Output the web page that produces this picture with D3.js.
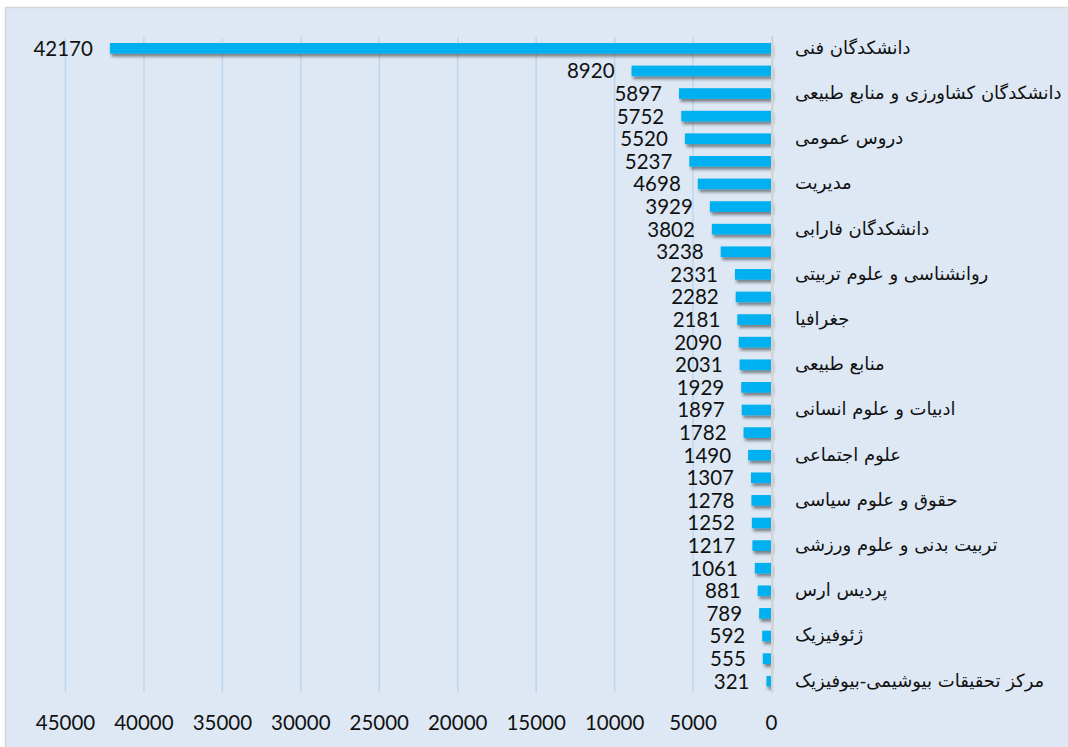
<!DOCTYPE html>
<html>
<head>
<meta charset="utf-8">
<script src="https://cdn.jsdelivr.net/npm/d3@7"></script>
<style>
  html, body { margin: 0; padding: 0; background: #ffffff; }
  svg { display: block; }
</style>
</head>
<body>
<svg id="chart" width="1068" height="747"></svg>
<script>
// Category labels (only every other row carries a visible name)
const categories = [
  "دانشکدگان فنی", "",
  "دانشکدگان کشاورزی و منابع طبیعی", "",
  "دروس عمومی", "",
  "مدیریت", "",
  "دانشکدگان فارابی", "",
  "روانشناسی و علوم تربیتی", "",
  "جغرافیا", "",
  "منابع طبیعی", "",
  "ادبیات و علوم انسانی", "",
  "علوم اجتماعی", "",
  "حقوق و علوم سیاسی", "",
  "تربیت بدنی و علوم ورزشی", "",
  "پردیس ارس", "",
  "ژئوفیزیک", "",
  "مرکز تحقیقات بیوشیمی-بیوفیزیک"
];
const values = [
  42170, 8920, 5897, 5752, 5520, 5237, 4698, 3929, 3802, 3238,
  2331, 2282, 2181, 2090, 2031, 1929, 1897, 1782, 1490, 1307,
  1278, 1252, 1217, 1061, 881, 789, 592, 555, 321
];
const xTicks = [45000, 40000, 35000, 30000, 25000, 20000, 15000, 10000, 5000, 0];

const rows = values.map((v, i) => ({ key: i, label: categories[i], value: v }));

const svg = d3.select("#chart");
const W = 1068, H = 747;

// chart area background with its thin grey frame
svg.append("rect")
  .attr("x", 5.5).attr("y", 7.5)
  .attr("width", W + 10).attr("height", H + 10)
  .attr("fill", "#dde8f4")
  .attr("stroke", "#d6d6d6").attr("stroke-width", 1.5);

const plot = { left: 65.5, right: 771.5, top: 37, bottom: 692.5 };

const x = d3.scaleLinear().domain([45000, 0]).range([plot.left, plot.right]);
const y = d3.scaleBand().domain(rows.map(d => d.key))
  .range([plot.top, plot.bottom]).paddingInner(0.53).paddingOuter(0.265);

// drop shadow under the bars
const defs = svg.append("defs");
const f = defs.append("filter").attr("id", "barShadow")
  .attr("x", "-10%").attr("y", "-50%").attr("width", "130%").attr("height", "250%");
f.append("feDropShadow").attr("dx", 1.5).attr("dy", 3).attr("stdDeviation", 1.6)
  .attr("flood-color", "#000").attr("flood-opacity", 0.45);

// vertical gridlines
svg.append("g").selectAll("line").data(xTicks.filter(t => t !== 0)).join("line")
  .attr("x1", d => x(d)).attr("x2", d => x(d))
  .attr("y1", plot.top).attr("y2", plot.bottom)
  .attr("stroke", "#bfd5ee").attr("stroke-width", 1.5);

// bars
svg.append("g").selectAll("rect").data(rows).join("rect")
  .attr("x", d => x(d.value))
  .attr("y", d => y(d.key))
  .attr("width", d => x(0) - x(d.value))
  .attr("height", y.bandwidth())
  .attr("fill", "#00b0f0")
  .attr("filter", "url(#barShadow)");

// zero axis line
svg.append("line")
  .attr("x1", x(0) + 0.8).attr("x2", x(0) + 0.8)
  .attr("y1", plot.top - 1).attr("y2", plot.bottom)
  .attr("stroke", "#d3d3d3").attr("stroke-width", 2.5);

// value labels
svg.append("g").selectAll("text").data(rows).join("text")
  .attr("x", d => x(d.value) - 17)
  .attr("y", d => y(d.key) + y.bandwidth() / 2 + 7.5)
  .attr("text-anchor", "end")
  .attr("font-family", "Lato, 'Open Sans', sans-serif")
  .attr("font-size", 20.5)
  .attr("fill", "#111")
  .text(d => d.value);

// category labels
svg.append("g").selectAll("text").data(rows.filter(d => d.label)).join("text")
  .attr("x", 795)
  .attr("y", d => y(d.key) + y.bandwidth() / 2 + 5.5)
  .attr("text-anchor", "start")
  .attr("font-family", "'DejaVu Sans', sans-serif")
  .attr("font-size", 18)
  .attr("fill", "#111")
  .text(d => d.label);

// x axis tick labels
svg.append("g").selectAll("text").data(xTicks).join("text")
  .attr("x", d => x(d))
  .attr("y", 730)
  .attr("text-anchor", "middle")
  .attr("font-family", "Lato, 'Open Sans', sans-serif")
  .attr("font-size", 20.5)
  .attr("fill", "#111")
  .text(d => d);
</script>
</body>
</html>
